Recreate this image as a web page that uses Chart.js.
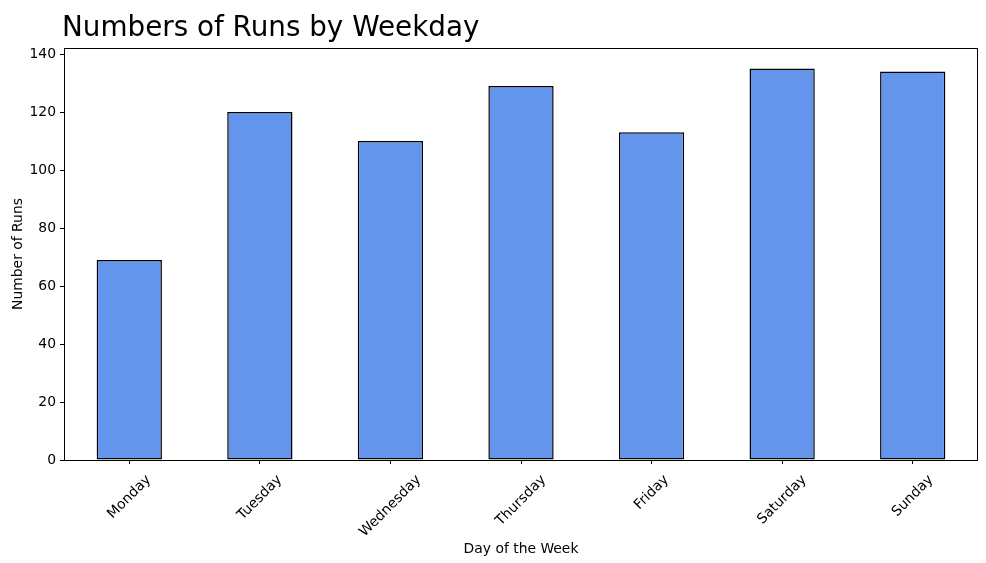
<!DOCTYPE html>
<html>
<head>
<meta charset="utf-8">
<script src="https://cdn.jsdelivr.net/npm/chart.js@4/dist/chart.umd.min.js"></script>
<style>
    html, body { margin: 0; padding: 0; background: #fff; }
    #wrap { width: 986px; height: 563px; }
</style>
</head>
<body>
<div id="wrap"><canvas id="chart" width="986" height="563"></canvas></div>
<script>
// Données du graphique
const days = ['Monday', 'Tuesday', 'Wednesday', 'Thursday', 'Friday', 'Saturday', 'Sunday'];
const runs = [69, 120, 110, 129, 113, 135, 134];
const yTicks = [0, 20, 40, 60, 80, 100, 120, 140];

const FONT = 'DejaVu Sans';
const TICK_SIZE = 13.9;

// Textes dessinés à la main : titre, titres d'axes, étiquettes inclinées
const textPlugin = {
    id: 'texts',
    afterDraw(chart) {
        const ctx = chart.ctx;
        const area = chart.chartArea;
        const xScale = chart.scales.x;

        ctx.save();
        ctx.fillStyle = '#000';

        // Cadre autour de la zone de tracé
        ctx.strokeStyle = '#000';
        ctx.lineWidth = 1;
        ctx.strokeRect(area.left + 0.5, area.top + 0.5, area.right - area.left - 1, area.bottom - area.top);

        // Titre
        ctx.font = `27.8px "${FONT}"`;
        ctx.textAlign = 'left';
        ctx.textBaseline = 'alphabetic';
        ctx.fillText('Numbers of Runs by Weekday', 62, 36);

        // Étiquettes de l'axe x, inclinées à 45°
        ctx.font = `${TICK_SIZE}px "${FONT}"`;
        ctx.textAlign = 'center';
        ctx.textBaseline = 'middle';
        const textH = 16;
        days.forEach((day, i) => {
            const x = xScale.getPixelForValue(i);
            const w = ctx.measureText(day).width;
            const boxH = (w + textH) * Math.SQRT1_2;
            const cy = area.bottom + 12 + boxH / 2;
            ctx.save();
            ctx.translate(x, cy);
            ctx.rotate(-Math.PI / 4);
            ctx.fillText(day, 0, 0);
            ctx.restore();
        });

        // Titre de l'axe x
        ctx.textBaseline = 'alphabetic';
        ctx.fillText('Day of the Week', (area.left + area.right) / 2, 553);

        // Titre de l'axe y
        ctx.save();
        ctx.translate(18, (area.top + area.bottom) / 2);
        ctx.rotate(-Math.PI / 2);
        ctx.textBaseline = 'middle';
        ctx.fillText('Number of Runs', 0, 0);
        ctx.restore();

        ctx.restore();
    }
};

new Chart(document.getElementById('chart'), {
    type: 'bar',
    data: {
        labels: days,
        datasets: [{
            label: 'Runs',
            data: runs,
            backgroundColor: '#6495ED',
            borderColor: '#000000',
            borderWidth: 1.5,
            borderSkipped: false,
            categoryPercentage: 1.0,
            barPercentage: 0.5
        }]
    },
    options: {
        responsive: false,
        animation: false,
        devicePixelRatio: 1,
        layout: {
            padding: { left: 0, right: 8, top: 48, bottom: 0 }
        },
        plugins: {
            legend: { display: false },
            title: { display: false },
            tooltip: { enabled: false }
        },
        scales: {
            x: {
                offset: true,
                grid: {
                    offset: false,
                    drawOnChartArea: false,
                    drawTicks: true,
                    tickLength: 4,
                    color: '#000'
                },
                border: { display: false },
                ticks: { display: false },
                afterFit(scale) { scale.height = 103; }
            },
            y: {
                min: 0,
                max: 142.07,
                afterBuildTicks(scale) {
                    scale.ticks = yTicks.map(v => ({ value: v }));
                },
                grid: {
                    drawOnChartArea: false,
                    drawTicks: true,
                    tickLength: 4,
                    color: '#000'
                },
                border: { display: false },
                ticks: {
                    color: '#000',
                    padding: 4,
                    font: { family: FONT, size: TICK_SIZE }
                },
                afterFit(scale) { scale.width = 64; }
            }
        }
    },
    plugins: [textPlugin]
});
</script>
</body>
</html>
